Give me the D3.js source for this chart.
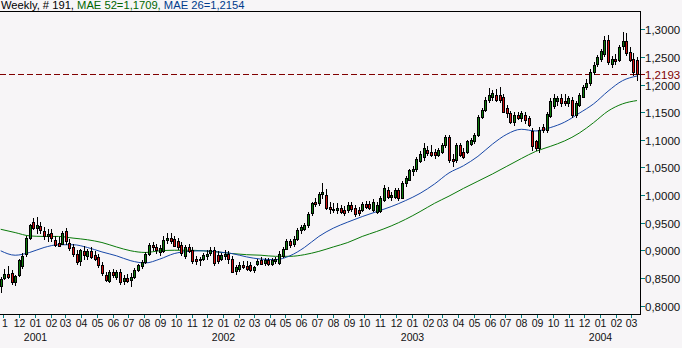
<!DOCTYPE html>
<html>
<head>
<meta charset="utf-8">
<script src="https://cdn.jsdelivr.net/npm/d3@7/dist/d3.min.js"></script>
<style>
  html, body { margin: 0; padding: 0; background: #f7f5f7; }
  svg { display: block; }
</style>
</head>
<body>
<div id="chart"></div>
<script>
// Weekly EUR/USD candles, first bar = week ending 2000-10-27
const firstWeek = new Date(Date.UTC(2000, 9, 27));

const opens = [
  0.835, 0.850, 0.857, 0.858, 0.843, 0.855, 0.872, 0.893, 0.922, 0.951,
  0.940, 0.944, 0.934, 0.926, 0.931, 0.919, 0.914, 0.912, 0.935, 0.913,
  0.906, 0.894, 0.880, 0.898, 0.889, 0.898, 0.891, 0.888, 0.873, 0.855,
  0.844, 0.860, 0.852, 0.860, 0.845, 0.850, 0.846, 0.852, 0.864, 0.872,
  0.879, 0.894, 0.910, 0.905, 0.897, 0.898, 0.918, 0.922, 0.921, 0.916,
  0.909, 0.889, 0.906, 0.900, 0.885, 0.882, 0.885, 0.890, 0.895, 0.900,
  0.891, 0.884, 0.889, 0.894, 0.885, 0.862, 0.866, 0.874, 0.872, 0.874,
  0.864, 0.876, 0.882, 0.877, 0.882, 0.876, 0.880, 0.877, 0.889, 0.903,
  0.916, 0.912, 0.920, 0.937, 0.938, 0.945, 0.967, 0.987, 0.985, 1.001,
  1.000, 0.978, 0.975, 0.973, 0.976, 0.973, 0.973, 0.982, 0.976, 0.972,
  0.973, 0.984, 0.984, 0.973, 0.970, 0.971, 0.991, 1.009, 0.997, 0.997,
  1.009, 0.995, 1.021, 1.028, 1.043, 1.048, 1.062, 1.068, 1.082, 1.078,
  1.078, 1.073, 1.078, 1.090, 1.105, 1.066, 1.063, 1.091, 1.078, 1.078,
  1.093, 1.097, 1.109, 1.142, 1.154, 1.172, 1.178, 1.181, 1.181, 1.178,
  1.157, 1.148, 1.133, 1.145, 1.139, 1.145, 1.139, 1.115, 1.097, 1.085,
  1.124, 1.118, 1.143, 1.162, 1.170, 1.175, 1.170, 1.166, 1.172, 1.145,
  1.163, 1.178, 1.196, 1.202, 1.223, 1.238, 1.247, 1.255, 1.280, 1.238,
  1.246, 1.245, 1.270, 1.278, 1.259, 1.247, 1.244
];
const highs = [
  0.852, 0.866, 0.872, 0.864, 0.856, 0.885, 0.895, 0.926, 0.948, 0.958,
  0.960, 0.952, 0.942, 0.938, 0.938, 0.926, 0.924, 0.935, 0.940, 0.920,
  0.912, 0.900, 0.903, 0.908, 0.902, 0.905, 0.898, 0.894, 0.878, 0.860,
  0.864, 0.866, 0.864, 0.866, 0.855, 0.857, 0.858, 0.867, 0.876, 0.882,
  0.897, 0.913, 0.915, 0.912, 0.910, 0.925, 0.932, 0.931, 0.926, 0.922,
  0.915, 0.910, 0.912, 0.905, 0.890, 0.888, 0.895, 0.900, 0.905, 0.905,
  0.898, 0.895, 0.900, 0.898, 0.890, 0.873, 0.878, 0.880, 0.880, 0.878,
  0.872, 0.884, 0.887, 0.886, 0.886, 0.886, 0.888, 0.898, 0.906, 0.920,
  0.920, 0.925, 0.940, 0.946, 0.950, 0.970, 0.988, 0.995, 1.005, 1.021,
  1.010, 0.988, 0.985, 0.985, 0.982, 0.980, 0.988, 0.988, 0.982, 0.978,
  0.988, 0.990, 0.990, 0.992, 0.988, 0.998, 1.018, 1.015, 1.005, 1.012,
  1.013, 1.025, 1.035, 1.048, 1.052, 1.068, 1.080, 1.094, 1.088, 1.090,
  1.084, 1.086, 1.095, 1.108, 1.108, 1.075, 1.094, 1.095, 1.085, 1.100,
  1.104, 1.112, 1.145, 1.158, 1.178, 1.193, 1.190, 1.192, 1.195, 1.183,
  1.163, 1.152, 1.150, 1.150, 1.152, 1.150, 1.143, 1.122, 1.100, 1.123,
  1.128, 1.150, 1.175, 1.182, 1.180, 1.182, 1.182, 1.180, 1.178, 1.170,
  1.185, 1.200, 1.210, 1.228, 1.240, 1.254, 1.265, 1.287, 1.290, 1.252,
  1.255, 1.272, 1.296, 1.294, 1.268, 1.258, 1.250
];
const lows = [
  0.823, 0.846, 0.848, 0.838, 0.836, 0.852, 0.866, 0.888, 0.918, 0.936,
  0.930, 0.930, 0.918, 0.915, 0.915, 0.905, 0.905, 0.910, 0.910, 0.898,
  0.888, 0.873, 0.872, 0.882, 0.882, 0.884, 0.880, 0.868, 0.854, 0.842,
  0.840, 0.850, 0.846, 0.838, 0.838, 0.840, 0.834, 0.848, 0.860, 0.866,
  0.876, 0.890, 0.898, 0.893, 0.890, 0.895, 0.912, 0.912, 0.905, 0.900,
  0.890, 0.885, 0.895, 0.875, 0.874, 0.872, 0.880, 0.882, 0.890, 0.872,
  0.875, 0.880, 0.883, 0.875, 0.858, 0.856, 0.860, 0.866, 0.862, 0.860,
  0.858, 0.872, 0.873, 0.872, 0.872, 0.871, 0.876, 0.874, 0.886, 0.900,
  0.904, 0.906, 0.916, 0.930, 0.934, 0.940, 0.962, 0.978, 0.980, 0.992,
  0.972, 0.965, 0.968, 0.965, 0.965, 0.962, 0.968, 0.970, 0.960, 0.962,
  0.970, 0.975, 0.972, 0.970, 0.965, 0.968, 0.988, 0.992, 0.990, 0.992,
  0.990, 0.992, 1.015, 1.025, 1.035, 1.042, 1.058, 1.062, 1.070, 1.068,
  1.066, 1.068, 1.074, 1.086, 1.058, 1.051, 1.058, 1.068, 1.065, 1.074,
  1.088, 1.092, 1.105, 1.138, 1.150, 1.166, 1.170, 1.168, 1.166, 1.148,
  1.140, 1.128, 1.125, 1.135, 1.132, 1.128, 1.124, 1.080, 1.080, 1.076,
  1.112, 1.113, 1.140, 1.155, 1.162, 1.160, 1.162, 1.160, 1.140, 1.140,
  1.160, 1.175, 1.190, 1.198, 1.218, 1.232, 1.240, 1.250, 1.235, 1.230,
  1.236, 1.240, 1.262, 1.252, 1.240, 1.215, 1.207
];
const closes = [
  0.848, 0.857, 0.852, 0.843, 0.853, 0.882, 0.890, 0.922, 0.945, 0.940,
  0.946, 0.937, 0.926, 0.930, 0.922, 0.910, 0.908, 0.931, 0.916, 0.904,
  0.894, 0.879, 0.900, 0.892, 0.898, 0.888, 0.885, 0.873, 0.858, 0.846,
  0.861, 0.855, 0.861, 0.843, 0.850, 0.845, 0.852, 0.864, 0.873, 0.878,
  0.894, 0.910, 0.905, 0.900, 0.904, 0.918, 0.922, 0.916, 0.907, 0.906,
  0.895, 0.906, 0.898, 0.880, 0.880, 0.884, 0.891, 0.893, 0.900, 0.877,
  0.880, 0.891, 0.894, 0.885, 0.860, 0.870, 0.874, 0.869, 0.866, 0.864,
  0.870, 0.880, 0.876, 0.882, 0.876, 0.882, 0.885, 0.894, 0.903, 0.917,
  0.910, 0.921, 0.937, 0.943, 0.946, 0.966, 0.985, 0.984, 1.001, 1.005,
  0.977, 0.975, 0.973, 0.976, 0.970, 0.967, 0.982, 0.975, 0.965, 0.967,
  0.984, 0.979, 0.976, 0.988, 0.982, 0.994, 1.012, 0.997, 1.000, 1.009,
  0.994, 1.021, 1.030, 1.045, 1.048, 1.065, 1.075, 1.085, 1.076, 1.073,
  1.072, 1.081, 1.091, 1.105, 1.063, 1.062, 1.090, 1.072, 1.069, 1.097,
  1.100, 1.109, 1.142, 1.154, 1.172, 1.181, 1.184, 1.172, 1.172, 1.151,
  1.148, 1.133, 1.145, 1.140, 1.148, 1.136, 1.127, 1.088, 1.085, 1.118,
  1.118, 1.146, 1.170, 1.175, 1.175, 1.166, 1.167, 1.175, 1.145, 1.166,
  1.181, 1.196, 1.202, 1.223, 1.235, 1.250, 1.260, 1.280, 1.240, 1.247,
  1.242, 1.268, 1.278, 1.257, 1.245, 1.222, 1.219
];

// moving averages, one reading every 4 weeks (week 0, 4, 8, ...)
const maStep = 4;
const ma52 = [
  0.938, 0.932, 0.926, 0.925, 0.925, 0.922, 0.919, 0.914, 0.906, 0.899,
  0.896, 0.899, 0.900, 0.900, 0.899, 0.897, 0.894, 0.892, 0.891, 0.889,
  0.889, 0.892, 0.898, 0.906, 0.914, 0.925, 0.934, 0.944, 0.956, 0.970,
  0.985, 0.998, 1.012, 1.025, 1.038, 1.052, 1.066, 1.079, 1.088, 1.098,
  1.112, 1.131, 1.152, 1.165, 1.171
];
const ma26 = [
  0.899, 0.891, 0.896, 0.905, 0.910, 0.910, 0.905, 0.897, 0.890, 0.881,
  0.877, 0.884, 0.894, 0.898, 0.899, 0.897, 0.894, 0.888, 0.884, 0.883,
  0.890, 0.905, 0.925, 0.940, 0.951, 0.961, 0.970, 0.979, 0.990, 1.003,
  1.020, 1.040, 1.053, 1.070, 1.092, 1.110, 1.119, 1.116, 1.122, 1.132,
  1.148, 1.165, 1.188, 1.207, 1.2154
];

const lastPrice = 1.2193;
const priceTicks = [0.80, 0.85, 0.90, 0.95, 1.00, 1.05, 1.10, 1.15, 1.20, 1.25, 1.30];
const titleParts = [
  { text: "Weekly, # 191, ", color: "#000000" },
  { text: "MAE 52=1,1709, ", color: "#006600" },
  { text: "MAE 26=1,2154", color: "#003c8c" }
];

const W = 682, H = 348;
const plot = { left: 0, right: 640, top: 11, bottom: 314 };
const font = "'Liberation Sans', Arial, sans-serif";
const fmt = v => v.toFixed(4).replace(".", ",");

const svg = d3.select("#chart").append("svg")
  .attr("width", W)
  .attr("height", H)
  .style("font-family", font);

svg.append("rect").attr("width", W).attr("height", H).attr("fill", "#f7f5f7");

const x = d3.scaleUtc()
  .domain([new Date(Date.UTC(2000, 10, 1)), new Date(Date.UTC(2004, 2, 1))])
  .range([3.3, 631.3]);
const y = d3.scaleLinear().domain([0.80, 1.30]).range([305.5, 29.3]);

const weeks = opens.map((_, i) => d3.utcDay.offset(firstWeek, 7 * i));

svg.append("defs").append("clipPath").attr("id", "plot-clip")
  .append("rect")
  .attr("x", plot.left).attr("y", plot.top)
  .attr("width", plot.right - plot.left).attr("height", plot.bottom - plot.top);

const g = svg.append("g").attr("clip-path", "url(#plot-clip)");

// last price dashed line
const yLast = Math.round(y(lastPrice)) + 0.5;
g.append("line")
  .attr("x1", plot.left).attr("x2", plot.right)
  .attr("y1", yLast).attr("y2", yLast)
  .attr("stroke", "#800000")
  .attr("stroke-dasharray", "6,3");

// moving averages
const maLine = d3.line()
  .x((d, k) => x(weeks[Math.min(k * maStep, weeks.length - 1)]))
  .y(d => y(d))
  .curve(d3.curveMonotoneX);

g.append("path").datum(ma52)
  .attr("d", maLine)
  .attr("fill", "none")
  .attr("stroke", "#0a7a0a")
  .attr("stroke-width", 1);

g.append("path").datum(ma26)
  .attr("d", maLine)
  .attr("fill", "none")
  .attr("stroke", "#1848a8")
  .attr("stroke-width", 1);

// candles
const candles = g.selectAll(".candle")
  .data(opens.map((o, i) => ({ o, h: highs[i], l: lows[i], c: closes[i], d: weeks[i] })))
  .enter().append("g")
  .attr("class", "candle")
  .attr("shape-rendering", "crispEdges");

candles.append("line")
  .attr("x1", d => Math.round(x(d.d)) + 0.5)
  .attr("x2", d => Math.round(x(d.d)) + 0.5)
  .attr("y1", d => Math.round(y(d.h)))
  .attr("y2", d => Math.round(y(d.l)))
  .attr("stroke", "#000");

candles.append("rect")
  .attr("x", d => Math.round(x(d.d)) - 0.5)
  .attr("y", d => Math.round(y(Math.max(d.o, d.c))) + 0.5)
  .attr("width", 2)
  .attr("height", d => Math.max(1, Math.round(y(Math.min(d.o, d.c))) - Math.round(y(Math.max(d.o, d.c)))))
  .attr("fill", d => d.c >= d.o ? "#0a7a0a" : "#d01010")
  .attr("stroke", "#000")
  .attr("stroke-width", 1);

// frame
svg.append("line")
  .attr("x1", 0).attr("x2", plot.right + 0.5)
  .attr("y1", plot.top + 0.5).attr("y2", plot.top + 0.5)
  .attr("stroke", "#000");
svg.append("line")
  .attr("x1", plot.right + 0.5).attr("x2", plot.right + 0.5)
  .attr("y1", plot.top).attr("y2", plot.bottom + 1)
  .attr("stroke", "#000");
svg.append("line")
  .attr("x1", 0).attr("x2", plot.right + 1)
  .attr("y1", plot.bottom + 0.5).attr("y2", plot.bottom + 0.5)
  .attr("stroke", "#000");

// title
const title = svg.append("text")
  .attr("x", 1).attr("y", 9)
  .attr("font-size", "11.2px");
titleParts.forEach(p => title.append("tspan").attr("fill", p.color).text(p.text));

// price axis
const yAxis = svg.append("g");
priceTicks.forEach(v => {
  const yy = Math.round(y(v)) + 0.5;
  yAxis.append("line")
    .attr("x1", plot.right + 1).attr("x2", plot.right + 5)
    .attr("y1", yy).attr("y2", yy)
    .attr("stroke", "#008080");
  yAxis.append("text")
    .attr("x", plot.right + 5).attr("y", yy + 4)
    .attr("font-size", "11.5px")
    .attr("fill", "#111")
    .text(fmt(v));
});
yAxis.append("line")
  .attr("x1", plot.right + 1).attr("x2", plot.right + 5)
  .attr("y1", yLast).attr("y2", yLast)
  .attr("stroke", "#800000");
yAxis.append("text")
  .attr("x", plot.right + 5).attr("y", yLast + 4)
  .attr("font-size", "11.5px")
  .attr("fill", "#800000")
  .text(fmt(lastPrice));

// time axis; the first month label only shows its last digit at the left edge
const months = d3.utcMonth.range(new Date(Date.UTC(2000, 10, 1)), new Date(Date.UTC(2004, 3, 1)));
const xAxis = svg.append("g");
months.forEach((m, k) => {
  const xx = Math.round(x(m)) + 0.5;
  xAxis.append("line")
    .attr("x1", xx).attr("x2", xx)
    .attr("y1", plot.bottom + 1).attr("y2", plot.bottom + 4)
    .attr("stroke", "#008080");
  const label = d3.utcFormat("%m")(m);
  xAxis.append("text")
    .attr("x", k === 0 ? 2 : xx)
    .attr("y", 327)
    .attr("text-anchor", k === 0 ? "start" : "middle")
    .attr("font-size", "10.5px")
    .attr("fill", "#111")
    .text(k === 0 ? label.slice(-1) : label);
  if (m.getUTCMonth() === 0) {
    xAxis.append("text")
      .attr("x", xx).attr("y", 341)
      .attr("text-anchor", "middle")
      .attr("font-size", "10.5px")
      .attr("fill", "#111")
      .text(d3.utcFormat("%Y")(m));
  }
});
</script>
</body>
</html>
